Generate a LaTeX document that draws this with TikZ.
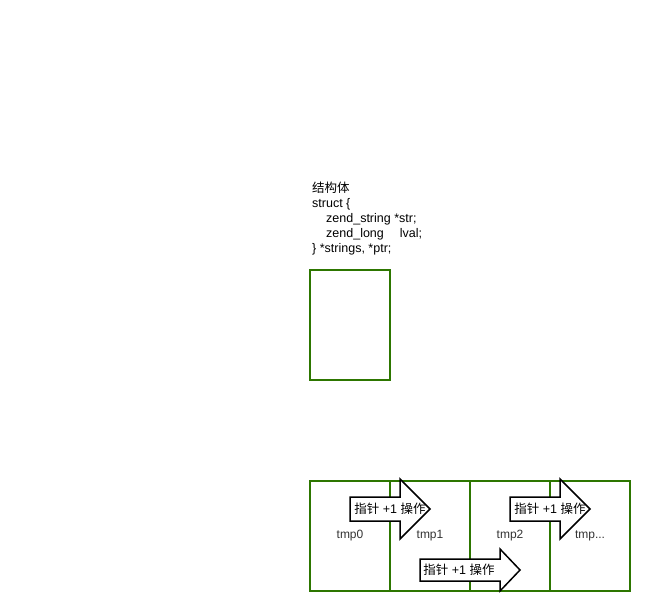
\documentclass[tikz,border=0pt]{standalone}
\usepackage{fontspec}
\setmainfont{Liberation Sans}
\newfontfamily\cjk{Noto Sans CJK SC}
\usetikzlibrary{positioning}
\definecolor{cellgreen}{HTML}{2D7600}

\begin{document}
\begin{tikzpicture}[x=1pt,y=-1pt, node distance=0pt,
  cell/.style={draw=cellgreen,line width=1.5pt,minimum width=80pt,minimum height=110pt,
    inner sep=0pt,outer sep=0pt,font=\fontsize{12}{14}\selectfont,text=black!80},
  ptrarrow/.style={draw=black,line width=1.5pt,fill=white,miter limit=10},
  ptrtext/.style={inner sep=0pt,font=\fontsize{12.5}{14}\selectfont}]
\useasboundingbox (0,0) rectangle (650,610);
% struct declaration
\node[anchor=base west,align=left,inner sep=0pt,font=\fontsize{12.5}{15}\selectfont] (decl) at (312,252.5)
  {{\cjk 结构体}\\
   struct \{\\
   \hspace*{14pt}zend\_string *str;\\
   \hspace*{14pt}zend\_long\hspace*{16pt}lval;\\
   \} *strings, *ptr;};
\node[cell,minimum height=110pt] (single) at (350,325) {};
% array of elements
\node[cell] (tmp0) at (350,536) {tmp0};
\node[cell,right=of tmp0] (tmp1) {tmp1};
\node[cell,right=of tmp1] (tmp2) {tmp2};
\node[cell,right=of tmp2] (tmpn) {tmp...};
% pointer +1 arrows
\draw[ptrarrow] (350,497) -- (400,497) -- (400,479) -- (430,509) -- (400,539) -- (400,521) -- (350,521) -- cycle;
\node[ptrtext] (step1) at (390,509) {{\cjk 指针} +1 {\cjk 操作}};
\draw[ptrarrow] (510,497) -- (560,497) -- (560,479) -- (590,509) -- (560,539) -- (560,521) -- (510,521) -- cycle;
\node[ptrtext] (step2) at (550,509) {{\cjk 指针} +1 {\cjk 操作}};
\draw[ptrarrow] (420,559) -- (500,559) -- (500,549) -- (520,570) -- (500,591) -- (500,581) -- (420,581) -- cycle;
\node[ptrtext] (step3) at (459,570) {{\cjk 指针} +1 {\cjk 操作}};
\end{tikzpicture}
\end{document}
